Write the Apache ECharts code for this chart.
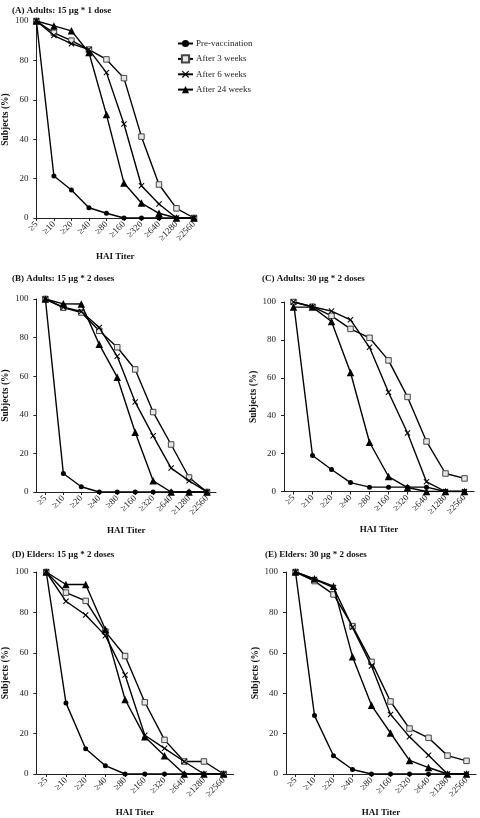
<!DOCTYPE html>
<html>
<head>
<meta charset="utf-8">
<script src="https://cdn.jsdelivr.net/npm/echarts@6/dist/echarts.min.js"></script>
<style>
html,body{margin:0;padding:0;background:#fff;}
#c{width:480px;height:818px;}
</style>
</head>
<body>
<div id="c"></div>
<script>
const categories = ['≥5','≥10','≥20','≥40','≥80','≥160','≥320','≥640','≥1280','≥2560'];
const seriesNames = ['Pre-vaccination','After 3 weeks','After 6 weeks','After 24 weeks'];
const panelTitles = ['(A) Adults: 15 µg * 1 dose','(B) Adults: 15 µg * 2 doses','(C) Adults: 30 µg * 2 doses','(D) Elders: 15 µg * 2 doses','(E) Elders: 30 µg * 2 doses'];
const yTicks = [0,20,40,60,80,100];

// Panel A
const aPre = [100, 21.3, 14.2, 5.2, 2.4, 0, 0, 0, 0, 0];
const a3w  = [100, 94, 90, 85.5, 80.5, 71, 41.3, 17, 4.9, 0];
const a6w  = [100, 92.6, 88.5, 85.5, 73.8, 47.7, 16.4, 7.1, 0, 0];
const a24w = [100, 97.5, 95, 84, 52.5, 17.8, 7.6, 2.4, 0, 0];
// Panel B
const bPre = [100, 9.6, 2.7, 0, 0, 0, 0, 0, 0, 0];
const b3w  = [100, 95.5, 93, 83.5, 75, 63.5, 41.4, 24.6, 7.5, 0];
const b6w  = [100, 95.7, 93.5, 85.2, 70.3, 46.6, 29.1, 12.4, 5.8, 0];
const b24w = [100, 97.5, 97.4, 76.5, 59.5, 31, 5.8, 0, 0, 0];
// Panel C
const cPre = [100, 19, 11.6, 4.7, 2.3, 2.3, 2.3, 2.3, 0, 0];
const c3w  = [100, 97.5, 92.7, 85.8, 81.1, 69.2, 49.9, 26.4, 9.5, 6.9];
const c6w  = [100, 97.5, 95.2, 90.6, 76.1, 52.4, 30.9, 5.1, 0, 0];
const c24w = [97.3, 97.3, 89.7, 62.8, 26, 7.9, 2.1, 0, 0, 0];
// Panel D
const dPre = [100, 35.2, 12.5, 4.1, 0, 0, 0, 0, 0, 0];
const d3w  = [100, 89.8, 85.7, 70.5, 58.4, 35.5, 16.9, 6.2, 6.2, 0];
const d6w  = [100, 85.5, 78.7, 68.5, 49, 19.2, 12.7, 6.2, 0, 0];
const d24w = [100, 93.8, 93.8, 71.5, 36.9, 18.5, 9, 0, 0, 0];
// Panel E
const ePre = [100, 28.9, 9, 2.2, 0, 0, 0, 0, 0, 0];
const e3w  = [100, 95.5, 88.9, 73.2, 55.5, 35.9, 22.5, 17.9, 9.1, 6.5];
const e6w  = [100, 96.3, 92.3, 72.6, 53.5, 29.5, 18.4, 9.3, 0, 0];
const e24w = [100, 96.6, 93, 58.1, 34, 20.3, 6.7, 3.2, 0, 0];

const panelData = [
  [aPre, a3w, a6w, a24w],
  [bPre, b3w, b6w, b24w],
  [cPre, c3w, c6w, c24w],
  [dPre, d3w, d6w, d24w],
  [ePre, e3w, e6w, e24w]
];

const FONT = "'Liberation Serif', 'DejaVu Serif', serif";
const grids = [
  {left: 32, top: 21, width: 162, height: 197, bg: false, titleLeft: 12, titleTop: 6},
  {left: 33, top: 299, width: 183, height: 193, bg: true, titleLeft: 12, titleTop: 274},
  {left: 284, top: 302, width: 190, height: 189.5, bg: true, titleLeft: 262, titleTop: 274},
  {left: 35.5, top: 572, width: 198, height: 205.5, bg: true, titleLeft: 12, titleTop: 550},
  {left: 286, top: 572, width: 190, height: 209, bg: true, titleLeft: 265, titleTop: 550}
];

const crossPath = 'path://M0,1.2 L1.2,0 L5,3.8 L8.8,0 L10,1.2 L6.2,5 L10,8.8 L8.8,10 L5,6.2 L1.2,10 L0,8.8 L3.8,5 Z';
const markers = [
  {symbol: 'circle', size: 5, color: '#000', border: '#000', bw: 0},
  {symbol: 'rect', size: 5.5, color: '#e6e6e6', border: '#444', bw: 1},
  {symbol: crossPath, size: 6, color: '#000', border: '#000', bw: 0},
  {symbol: 'triangle', size: 7.5, color: '#000', border: '#000', bw: 0}
];

const option = {
  backgroundColor: '#fff',
  animation: false,
  title: grids.map((g, i) => ({
    text: panelTitles[i], left: g.titleLeft, top: g.titleTop, padding: 0,
    textStyle: {fontFamily: FONT, fontSize: 9, fontWeight: 'bold', color: '#111'}
  })),
  legend: {
    orient: 'vertical', left: 177, top: 39, itemGap: 6.3, itemWidth: 15, itemHeight: 9,
    data: seriesNames,
    textStyle: {fontFamily: FONT, fontSize: 9, color: '#222', padding: [0, 0, 0, -2]},
    padding: 0
  },
  grid: grids.map(g => ({left: g.left, top: g.top, width: g.width, height: g.height, containLabel: false})),
  xAxis: grids.map((g, i) => ({
    type: 'category', gridIndex: i, data: categories, boundaryGap: g.bg,
    name: 'HAI Titer', nameLocation: 'middle', nameGap: 34,
    nameTextStyle: {fontFamily: FONT, fontSize: 9, fontWeight: 'bold', color: '#111'},
    axisLine: {lineStyle: {color: '#222', width: 1}},
    axisTick: {show: true, length: 3, alignWithLabel: true, lineStyle: {color: '#222'}},
    axisLabel: {rotate: 45, fontFamily: FONT, fontSize: 9, color: '#222', margin: 5, interval: 0}
  })),
  yAxis: grids.map((g, i) => ({
    type: 'value', gridIndex: i, min: 0, max: 100, interval: 20,
    name: 'Subjects (%)', nameLocation: 'middle', nameGap: 22,
    nameTextStyle: {fontFamily: FONT, fontSize: 9.5, fontWeight: 'bold', color: '#111'},
    axisLine: {show: true, lineStyle: {color: '#222', width: 1}},
    axisTick: {show: true, length: 3, lineStyle: {color: '#222'}},
    splitLine: {show: false},
    axisLabel: {fontFamily: FONT, fontSize: 9, color: '#222', margin: 8,
      formatter: v => yTicks.includes(v) ? String(v) : ''}
  })),
  series: []
};

panelData.forEach((arrs, pi) => {
  arrs.forEach((arr, si) => {
    const m = markers[si];
    option.series.push({
      type: 'line', name: seriesNames[si], xAxisIndex: pi, yAxisIndex: pi,
      data: arr, symbol: m.symbol, symbolSize: m.size, showAllSymbol: true,
      lineStyle: {color: '#000', width: 1.4},
      itemStyle: {color: m.color, borderColor: m.border, borderWidth: m.bw},
      z: 2 + si
    });
  });
});

const chart = echarts.init(document.getElementById('c'), null, {renderer: 'canvas'});
chart.setOption(option);
</script>
</body>
</html>
